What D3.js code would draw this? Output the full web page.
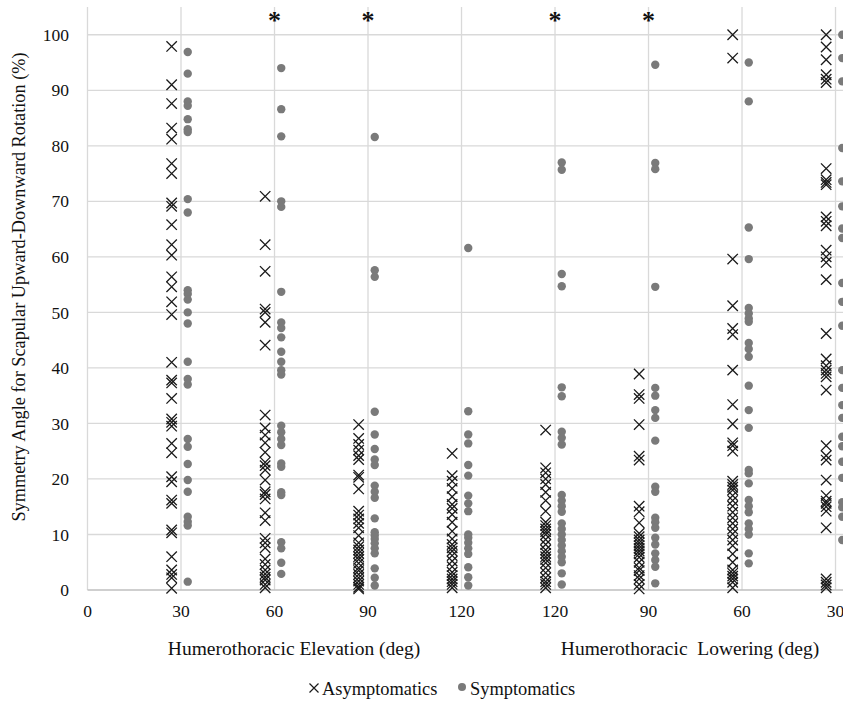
<!DOCTYPE html>
<html><head><meta charset="utf-8">
<script src="https://cdn.jsdelivr.net/npm/d3@7"></script>
<style>body{margin:0;background:#fff}svg{display:block}text{font-family:"Liberation Serif","Times New Roman",serif}</style>
</head><body><svg id="c" width="843" height="703"></svg>
<script>
const categoryLabels = ["0","30","60","90","120","120","90","60","30"];
const yTicks = [0,10,20,30,40,50,60,70,80,90,100];
const starCategories = [2,3,5,6];
const starValue = 104.5;

const asym30E = [97.9,91,87.6,83.2,81.2,76.8,75,69.7,69.1,65.8,62.2,60.3,56.4,54.6,51.9,49.6,41,37.8,37.3,34.5,30.8,30.2,29.5,26.4,24.7,20.4,19.5,16.2,15.6,10.8,10.3,6,3.6,2.8,2.2,0.3];
const sym30E = [96.9,93,88,87.2,84.8,83,82.5,70.4,68,54,53.3,52.3,50,48,41.1,38,37,27.2,25.8,22.7,19.8,17.7,13.2,12.3,11.6,1.5];
const asym60E = [70.9,62.2,57.4,50.6,50,48.2,44.1,31.5,29.2,27.9,26.5,24.8,23,22.4,21.6,19.8,17.7,17.2,16.4,13.9,12.5,9.3,8.5,7.6,5.6,4.6,3.6,2.9,2.3,1.8,1,0.4];
const sym60E = [94,86.6,81.7,70,69,53.7,48.2,47.2,45.5,42.9,41.1,39.6,38.8,29.6,28.4,27.2,26.1,22.8,22.2,17.6,17.1,8.6,7.5,4.9,2.9];
const asym90E = [29.8,27.3,26.2,25.2,24.2,23.5,20.7,20.3,18.2,14.2,13.5,12.8,12,11.2,9.8,8.5,7.8,7.2,6.6,6,5.5,4.8,4,3.5,2.8,2.2,1.6,1,0.5,0.2];
const sym90E = [81.6,57.6,56.4,32.1,28,25.4,23.5,22.5,18.8,17.7,16.6,12.9,10.4,9.8,9.2,8.4,7.5,6.6,3.9,2.2,0.8];
const asym120E = [24.6,20.6,19.6,18.3,16.8,15.4,14.7,13.6,12.2,10.6,9.2,8.2,7.6,7,6.2,5.2,4.2,3.2,2.6,2,1.5,1,0.4];
const sym120E = [61.6,32.2,28,26.4,22.5,20.6,17,15.6,14.2,10,9.4,8.5,7.5,6.5,4.1,2.3,0.8];
const asym120L = [28.8,22,21.1,20,19,17.6,16.1,14.2,12.2,11.6,11,10.5,10,9.1,8.2,7.2,6.6,6,5.5,4.9,4,3.1,2.2,1.5,1,0.4];
const sym120L = [77,75.7,56.9,54.7,36.5,34.9,28.5,27.4,26.2,17.1,16.1,15.1,14.1,12,11,10,9,8,7,6,5,3,1];
const asym90L = [38.9,35.2,34.5,29.8,24.1,23.4,15.1,14.1,12.1,10.2,9.6,9,8.5,8,7.5,7,6.5,5.9,5,4,3.5,2.6,2,1,0.2];
const sym90L = [94.6,76.9,75.8,54.6,36.4,35,32.4,31,26.9,18.6,17.7,13,12.2,11.2,9.4,8.2,6.6,5.4,4.2,1.2];
const asym60L = [100,95.8,59.6,51.2,47.1,46,39.6,33.4,29.9,26.5,26,25,19.6,19,18.5,18,17,16.1,15.1,14,13,12,11,10.1,9,8,6.5,5,3.6,3,2.5,2,1.4,0.4];
const sym60L = [95,88,65.3,59.6,50.8,49.8,48.9,48.3,44.5,43.4,42,36.8,32.4,29.2,21.6,21,19.2,16.2,15.1,14,12,11,10,6.6,4.8];
const asym30L = [100,97.8,95.5,92.8,92,91.4,75.9,73.9,73.4,73,67.2,66.4,65.6,61.2,60,59,55.9,46.2,41.6,40.4,39.6,39,38.4,36,26,24.2,23.4,19.8,17,16,15.6,15,14.2,11.2,2,1.4,0.9,0.4];
const sym30L = [100,95.8,91.6,79.6,73.6,69.1,65.1,63.4,55.3,51.9,47.6,39.6,36.4,33.3,31,27.6,25.9,23.1,20.2,15.8,14.9,13.2,9];

const asymSeries = [null,asym30E,asym60E,asym90E,asym120E,asym120L,asym90L,asym60L,asym30L];
const symSeries = [null,sym30E,sym60E,sym90E,sym120E,sym120L,sym90L,sym60L,sym30L];

const svg = d3.select("#c");
const x = d3.scaleLinear().domain([0, 8.08]).range([87.5, 843]);
const y = d3.scaleLinear().domain([0, 105]).range([590, 7]);
const asymOff = -0.1, symOff = 0.072;

// gridlines
svg.append("g").selectAll("line.h").data(yTicks.filter(d=>d>0)).join("line")
  .attr("x1", x(0)).attr("x2", 843).attr("y1", d=>y(d)).attr("y2", d=>y(d))
  .attr("stroke", "#d9d9d9").attr("stroke-width", 1.3);
svg.append("g").selectAll("line.v").data(d3.range(categoryLabels.length)).join("line")
  .attr("x1", d=>x(d)).attr("x2", d=>x(d)).attr("y1", y(105)).attr("y2", y(0))
  .attr("stroke", "#d9d9d9").attr("stroke-width", 1.3);
svg.append("line").attr("x1", x(0)).attr("x2", 843).attr("y1", y(0)).attr("y2", y(0))
  .attr("stroke", "#bfbfbf").attr("stroke-width", 1.3);

// y axis labels
svg.append("g").selectAll("text").data(yTicks).join("text")
  .attr("x", 69).attr("y", d=>y(d)).attr("dy", "0.35em").attr("text-anchor", "end")
  .attr("font-size", 17.5).attr("fill", "#111").text(d=>d);
// x labels
svg.append("g").selectAll("text").data(categoryLabels).join("text")
  .attr("x", (d,i)=>x(i)).attr("y", 617).attr("text-anchor", "middle")
  .attr("font-size", 17.5).attr("fill", "#111").text(d=>d);

svg.append("text").attr("transform", "translate(25,287) rotate(-90)").attr("text-anchor", "middle")
  .attr("font-size", 18.3).attr("fill", "#111")
  .text("Symmetry Angle for Scapular Upward-Downward Rotation (%)");
svg.append("text").attr("x", 294).attr("y", 655).attr("text-anchor", "middle")
  .attr("font-size", 19.5).attr("fill", "#111").text("Humerothoracic Elevation (deg)");
svg.append("text").attr("x", 690).attr("y", 655).attr("text-anchor", "middle")
  .attr("font-size", 19.5).attr("fill", "#111").style("white-space","pre")
  .text("Humerothoracic  Lowering (deg)");

// points
const asymPts = [], symPts = [];
asymSeries.forEach((arr,i)=>{ if(arr) arr.forEach(v=>asymPts.push({c:i,v})); });
symSeries.forEach((arr,i)=>{ if(arr) arr.forEach(v=>symPts.push({c:i,v})); });

const xs = 5.2;
const crossPath = `M${-xs},${-xs}L${xs},${xs}M${-xs},${xs}L${xs},${-xs}`;
svg.append("g").selectAll("circle").data(symPts).join("circle")
  .attr("cx", d=>x(d.c+symOff)).attr("cy", d=>y(d.v)).attr("r", 4.2)
  .attr("fill", "#7a7a7a");
svg.append("g").selectAll("path").data(asymPts).join("path")
  .attr("transform", d=>`translate(${x(d.c+asymOff)},${y(d.v)})`)
  .attr("d", crossPath).attr("stroke", "#1a1a1a").attr("stroke-width", 1.3).attr("fill", "none");

// asterisks
svg.append("g").selectAll("text").data(starCategories).join("text")
  .attr("x", d=>x(d)).attr("y", y(starValue)).attr("dy", "0.75em").attr("text-anchor", "middle")
  .attr("font-size", 26).attr("font-weight", "bold").attr("fill", "#111").text("*");

// legend
const lg = svg.append("g");
lg.append("path").attr("transform", "translate(314,688)")
  .attr("d", `M-4.5,-4.5L4.5,4.5M-4.5,4.5L4.5,-4.5`).attr("stroke", "#1a1a1a").attr("stroke-width", 1.2);
lg.append("text").attr("x", 322).attr("y", 695).attr("font-size", 18.4).attr("fill", "#111").text("Asymptomatics");
lg.append("circle").attr("cx", 462).attr("cy", 687).attr("r", 4).attr("fill", "#7a7a7a");
lg.append("text").attr("x", 470).attr("y", 695).attr("font-size", 18.4).attr("fill", "#111").text("Symptomatics");
</script></body></html>
